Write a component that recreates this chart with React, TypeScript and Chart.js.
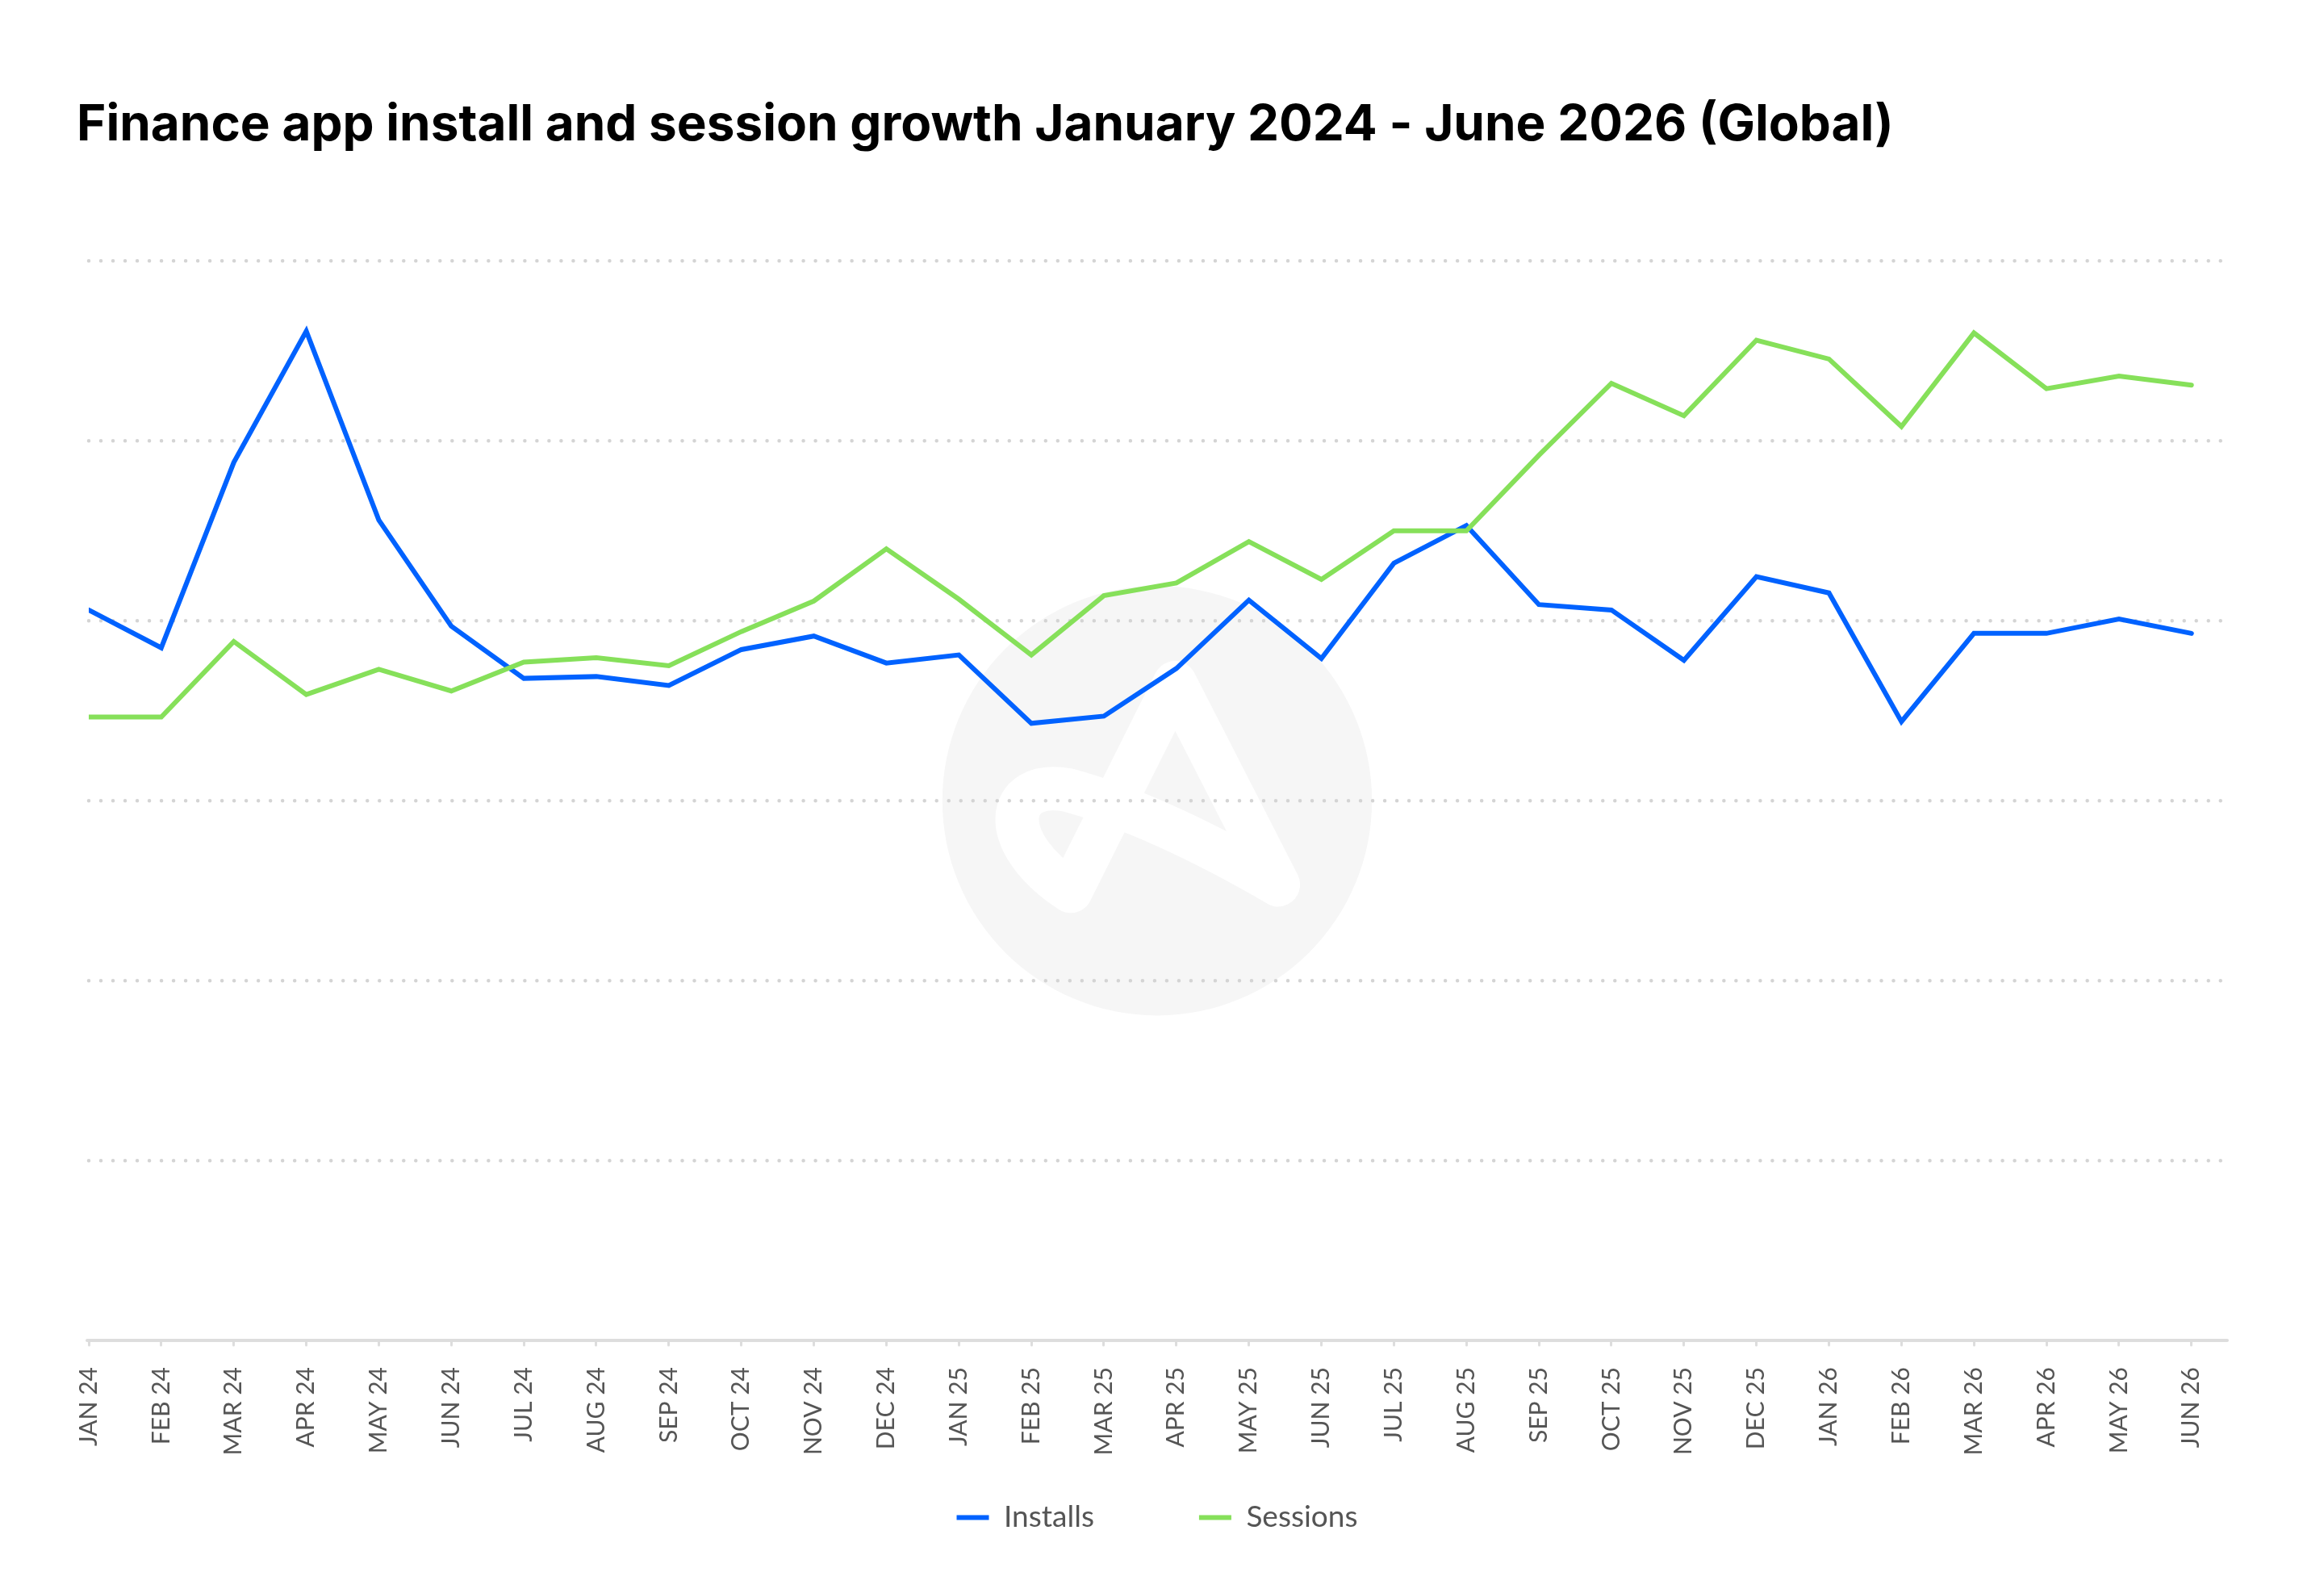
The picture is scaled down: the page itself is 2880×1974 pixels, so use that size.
import React, { useEffect, useRef } from 'react';
import { Chart, registerables } from 'chart.js';

Chart.register(...registerables);

const TITLE = 'Finance app install and session growth January 2024 - June 2026 (Global)';

const months = [
  'JAN 24', 'FEB 24', 'MAR 24', 'APR 24', 'MAY 24', 'JUN 24', 'JUL 24', 'AUG 24', 'SEP 24', 'OCT 24', 'NOV 24', 'DEC 24',
  'JAN 25', 'FEB 25', 'MAR 25', 'APR 25', 'MAY 25', 'JUN 25', 'JUL 25', 'AUG 25', 'SEP 25', 'OCT 25', 'NOV 25', 'DEC 25',
  'JAN 26', 'FEB 26', 'MAR 26', 'APR 26', 'MAY 26', 'JUN 26',
];

const installs = [
  4.06, 3.85, 4.88, 5.61, 4.56, 3.97, 3.68, 3.69, 3.64, 3.84, 3.915, 3.765,
  3.81, 3.43, 3.47, 3.735, 4.115, 3.79, 4.32, 4.53, 4.09, 4.06, 3.78, 4.245,
  4.155, 3.44, 3.93, 3.93, 4.01, 3.93,
];

const sessions = [
  3.465, 3.465, 3.885, 3.59, 3.73, 3.61, 3.77, 3.795, 3.75, 3.94, 4.11, 4.4,
  4.12, 3.81, 4.14, 4.21, 4.44, 4.23, 4.5, 4.5, 4.92, 5.32, 5.14, 5.56,
  5.455, 5.08, 5.6, 5.29, 5.36, 5.31,
];

const yTicks = [0, 1, 2, 3, 4, 5, 6];

const BLUE = '#0062ff';
const GREEN = '#86e05a';

const watermark = {
  id: 'watermark',
  beforeDraw(chart: any) {
    const { ctx, chartArea: a } = chart;
    const cx = (a.left + a.right) / 2;
    const cy = (a.top + a.bottom) / 2;
    const r = (a.bottom - a.top) * 0.199;
    const P = (x: number, y: number): [number, number] => [cx + x * r, cy + y * r];
    ctx.save();
    ctx.fillStyle = '#f6f6f6';
    ctx.beginPath();
    ctx.arc(cx, cy, r, 0, Math.PI * 2);
    ctx.fill();
    ctx.strokeStyle = '#ffffff';
    ctx.lineWidth = 0.203 * r;
    ctx.lineCap = 'round';
    ctx.lineJoin = 'round';
    ctx.beginPath();
    ctx.moveTo(...P(-0.402, 0.421));
    ctx.lineTo(...P(0.083, -0.549));
    ctx.lineTo(...P(0.564, 0.391));
    ctx.quadraticCurveTo(...P(0, 0.064), ...P(-0.414, -0.049));
    ctx.bezierCurveTo(...P(-0.714, -0.105), ...P(-0.752, 0.195), ...P(-0.402, 0.421));
    ctx.stroke();
    ctx.restore();
    ctx.lineCap = 'round';
  },
};

// place the legend a fixed distance under the plot area
const legendPlacement = {
  id: 'legendPlacement',
  afterLayout(chart: any) {
    const lg = chart.legend;
    if (!lg) return;
    const h = lg.height;
    lg.top = chart.chartArea.bottom + 71;
    lg.bottom = lg.top + h;
  },
};

export default function App() {
  const ref = useRef<HTMLCanvasElement | null>(null);

  useEffect(() => {
    if (!ref.current) return;
    const chart = new Chart(ref.current, {
      type: 'line',
      data: {
        datasets: [
          {
            label: 'Installs',
            data: installs.map((v, i) => ({ x: i, y: v })),
            borderColor: BLUE,
            backgroundColor: BLUE,
            borderWidth: 6,
            borderCapStyle: 'round',
            pointRadius: 0,
            tension: 0,
            fill: false,
            order: 2,
          },
          {
            label: 'Sessions',
            data: sessions.map((v, i) => ({ x: i, y: v })),
            borderColor: GREEN,
            backgroundColor: GREEN,
            borderWidth: 6,
            borderCapStyle: 'round',
            pointRadius: 0,
            tension: 0,
            fill: false,
            order: 1,
          },
        ],
      },
      options: {
        animation: false,
        responsive: false,
        devicePixelRatio: 1,
        layout: { padding: { left: 95, right: 122, top: 0, bottom: -9 } },
        plugins: {
          title: {
            display: true,
            text: TITLE,
            align: 'start',
            color: '#000000',
            font: { family: 'Inter', size: 62, weight: 'bold' },
            padding: { top: 118, bottom: 131 },
          },
          legend: {
            position: 'bottom',
            fullSize: false,
            labels: {
              sort: (a: any, b: any) => a.datasetIndex - b.datasetIndex,
              usePointStyle: true,
              pointStyle: 'line',
              pointStyleWidth: 40,
              padding: 130,
              color: '#555555',
              font: { family: 'Lato', size: 37 },
            },
          },
          tooltip: { enabled: false },
        },
        scales: {
          x: {
            type: 'linear',
            min: 0,
            max: 29.47,
            afterBuildTicks: (s: any) => {
              s.ticks = months.map((_, i) => ({ value: i }));
            },
            afterFit: (s: any) => {
              s.height = 145;
            },
            ticks: {
              callback: (v: any) => months[v as number],
              minRotation: 90,
              maxRotation: 90,
              autoSkip: false,
              padding: 27,
              color: '#555555',
              font: { family: 'Lato', size: 30 },
            },
            grid: {
              drawOnChartArea: false,
              drawTicks: true,
              tickLength: 6,
              color: '#dddddd',
              lineWidth: 3,
            },
            border: { display: true, color: '#dddddd', width: 4 },
          },
          y: {
            min: 0,
            max: 6,
            afterBuildTicks: (s: any) => {
              s.ticks = yTicks.map((v) => ({ value: v }));
            },
            afterFit: (s: any) => {
              s.width = 15;
            },
            ticks: { display: false },
            grid: {
              drawTicks: false,
              color: (c: any) => (c.tick && c.tick.value === 0 ? 'rgba(0,0,0,0)' : '#d4d4d4'),
              lineWidth: 4.5,
            },
            border: { display: false, dash: [0.01, 15] },
          },
        },
      },
      plugins: [watermark, legendPlacement],
    } as any);
    return () => chart.destroy();
  }, []);

  return (
    <div style={{ position: 'fixed', left: 0, top: 0, width: 2880, height: 1974, background: '#ffffff' }}>
      <canvas ref={ref} width={2880} height={1974} style={{ width: 2880, height: 1974, display: 'block' }} />
    </div>
  );
}
